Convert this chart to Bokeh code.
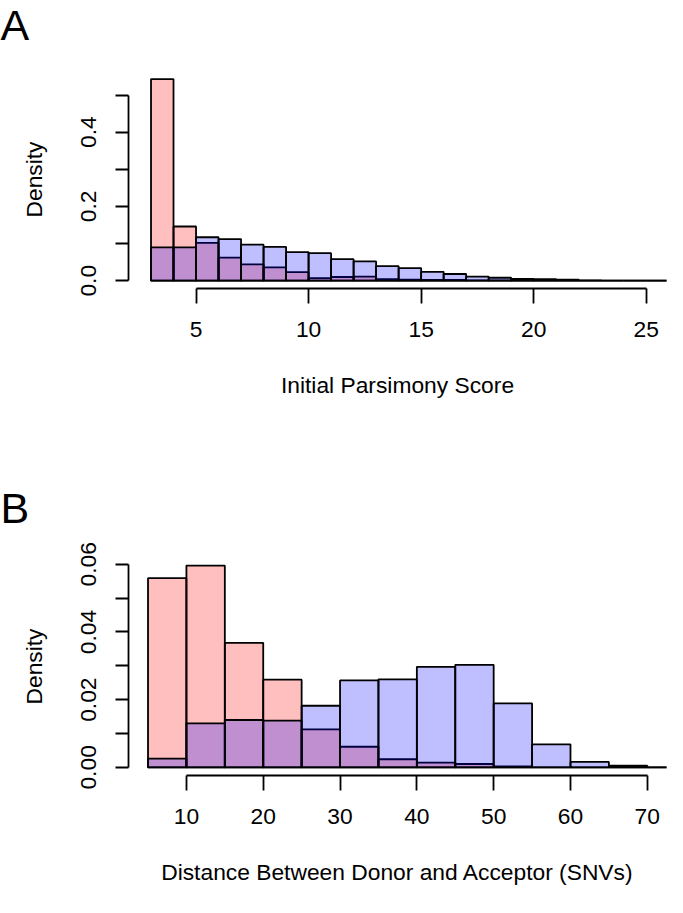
from bokeh.plotting import figure
from bokeh.layouts import column
from bokeh.models import FixedTicker, Range1d
from bokeh.embed import file_html
from bokeh.resources import INLINE

S = 667 / 683.0
FONT = "Liberation Sans"
FS = "%.1fpx" % (23.3 * S)
LETTER_FS = "%dpx" % round(44 * S)

# ---------------- Panel A data: Initial Parsimony Score ----------------
a_edges = list(range(3, 27))  # bin edges 3..26, width 1
a_pink = [0.543, 0.146, 0.102, 0.062, 0.044, 0.036, 0.023, 0.007, 0.010, 0.011,
          0.004, 0.003, 0.002, 0.002, 0.001, 0.001, 0.0005, 0.0, 0.0, 0.0,
          0.0, 0.0, 0.0]
a_blue = [0.090, 0.090, 0.117, 0.112, 0.097, 0.091, 0.077, 0.074, 0.058, 0.052,
          0.039, 0.034, 0.024, 0.018, 0.011, 0.008, 0.005, 0.004, 0.003, 0.001,
          0.0, 0.0, 0.0]
a_xticks = [5, 10, 15, 20, 25]
a_yticks = [0.0, 0.1, 0.2, 0.3, 0.4, 0.5]
a_ylabels = ["0.0", "", "0.2", "", "0.4", ""]
a_xlabel = "Initial Parsimony Score"

# ---------------- Panel B data: Donor-Acceptor distance ----------------
b_edges = list(range(5, 80, 5))  # bin edges 5..75, width 5
b_pink = [0.0559, 0.0596, 0.0368, 0.0259, 0.0112, 0.0061, 0.0024, 0.0014,
          0.0010, 0.0003, 0.0, 0.0, 0.0, 0.0]
b_blue = [0.0026, 0.0130, 0.0140, 0.0138, 0.0182, 0.0257, 0.0260, 0.0297,
          0.0303, 0.0189, 0.0068, 0.0016, 0.0005, 0.0]
b_xticks = [10, 20, 30, 40, 50, 60, 70]
b_yticks = [0.00, 0.01, 0.02, 0.03, 0.04, 0.05, 0.06]
b_ylabels = ["0.00", "", "0.02", "", "0.04", "", "0.06"]
b_xlabel = "Distance Between Donor and Acceptor (SNVs)"

PINK = (255, 0, 0, 0.25)
BLUE = (0, 0, 255, 0.25)
LW = 1.8
LEFT = 128  # frame left (page px minus margin), shared by the column


def style_letter(p, letter, standoff, valign):
    p.title.text = letter
    p.title.align = "left"
    p.title.offset = -LEFT
    p.title.standoff = standoff
    p.title.vertical_align = valign
    p.title.text_font = FONT
    p.title.text_font_style = "normal"
    p.title.text_font_size = LETTER_FS
    p.title.text_color = "black"


def letter_row(letter, height):
    p = figure(width=667, height=height, x_axis_type=None, y_axis_type=None,
               output_backend="svg", toolbar_location=None,
               min_border_left=LEFT, min_border_right=1, min_border_top=0,
               min_border_bottom=0)
    p.outline_line_color = None
    p.grid.visible = False
    style_letter(p, letter, 0, "top")
    return p


def panel(edges, pink, blue, xr, yr, xticks, yticks, ylabels, xlabel,
          height, top, frame_h):
    bottom = height - top - frame_h
    p = figure(width=667, height=height, x_range=Range1d(*xr), y_range=Range1d(*yr),
               output_backend="svg", toolbar_location=None,
               min_border_left=LEFT, min_border_right=1,
               min_border_top=top, min_border_bottom=bottom)
    p.outline_line_color = None
    p.grid.visible = False
    p.background_fill_color = "white"
    p.border_fill_color = "white"

    lefts = edges[:-1]
    rights = edges[1:]
    p.quad(left=lefts, right=rights, bottom=0, top=pink, fill_color=PINK,
           line_color="black", line_width=LW)
    p.quad(left=lefts, right=rights, bottom=0, top=blue, fill_color=BLUE,
           line_color="black", line_width=LW)

    for ax in (p.xaxis[0], p.yaxis[0]):
        ax.axis_line_color = "black"
        ax.axis_line_width = LW
        ax.major_tick_line_color = "black"
        ax.major_tick_line_width = LW
        ax.minor_tick_line_color = None
        ax.major_tick_in = 0
        ax.major_label_text_font = FONT
        ax.major_label_text_font_size = FS
        ax.major_label_text_color = "black"
        ax.axis_label_text_font = FONT
        ax.axis_label_text_font_size = FS
        ax.axis_label_text_font_style = "normal"
        ax.axis_label_text_color = "black"

    xa = p.xaxis[0]
    xa.ticker = FixedTicker(ticks=xticks)
    xa.bounds = (xticks[0], xticks[-1])
    xa.major_tick_out = round(15 * S)
    xa.major_label_standoff = round(18 * S)
    xa.axis_label = xlabel
    xa.axis_label_standoff = 32

    ya = p.yaxis[0]
    ya.ticker = FixedTicker(ticks=yticks)
    ya.bounds = (yticks[0], yticks[-1])
    ya.major_tick_out = round(13 * S)
    ya.major_label_standoff = round(19 * S)
    ya.major_label_orientation = "vertical"
    ya.major_label_overrides = {t: l for t, l in zip(yticks, ylabels)}
    ya.axis_label = "Density"
    ya.axis_label_standoff = round(33 * S)
    return p


FH = round(223 * S)
rowA = letter_row("A", 60)
pA = panel(a_edges, a_pink, a_blue, (2.0, 25.9), (-0.021, 0.566), a_xticks, a_yticks,
           a_ylabels, a_xlabel, 370, 10, FH)
pB = panel(b_edges, b_pink, b_blue, (2.46, 72.5), (-0.0024, 0.062), b_xticks, b_yticks,
           b_ylabels, b_xlabel, 462, 127, FH)
style_letter(pB, "B", 51, "bottom")

layout = column(rowA, pA, pB, spacing=0)
open("out.html", "w").write(file_html(layout, INLINE))
